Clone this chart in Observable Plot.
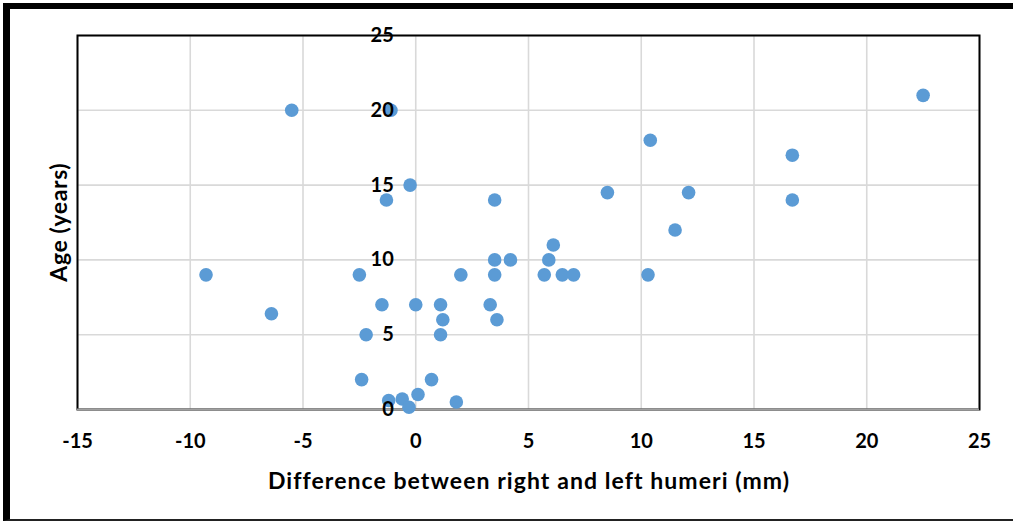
<!DOCTYPE html>
<html>
<head>
<meta charset="utf-8">
<script src="https://cdn.jsdelivr.net/npm/d3@7"></script>
<script src="https://cdn.jsdelivr.net/npm/@observablehq/plot@0.6"></script>
<style>
  html, body { margin: 0; padding: 0; background: #fff; }
  #wrap { position: relative; width: 1013px; height: 526px; overflow: hidden; }
  #outer { position: absolute; left: 3px; top: 3px; width: 1010px; height: 518px;
           border-left: 7px solid #000; border-top: 6px solid #000; border-bottom: 2px solid #222;
           box-sizing: border-box; pointer-events: none; }
  svg { position: absolute; left: 0; top: 0; }
</style>
</head>
<body>
<div id="wrap"><div id="outer"></div></div>
<script>
// Difference between right and left humeri (mm)
const diffMM = [-5.5, -1.1, -0.25, -1.3, 3.5, 8.5, 10.4, 12.1, 11.5, 16.7,
                16.7, 22.5, 6.1, 5.9, 3.5, 4.2, -9.3, -2.5, 2.0, 3.5,
                5.7, 6.5, 7.0, 10.3, -6.4, -1.5, 0.0, 1.1, 3.3, 1.2,
                3.6, -2.2, 1.1, -2.4, 0.7, -1.2, -0.6, 0.1, -0.3, 1.8];
// Age (years)
const ageYears = [20, 20, 15, 14, 14, 14.5, 18, 14.5, 12, 17,
                  14, 21, 11, 10, 10, 10, 9, 9, 9, 9,
                  9, 9, 9, 9, 6.4, 7, 7, 7, 7, 6,
                  6, 5, 5, 2, 2, 0.6, 0.7, 1, 0.15, 0.5];
const xTicks = [-15, -10, -5, 0, 5, 10, 15, 20, 25];
const yTicks = [0, 5, 10, 15, 20, 25];
const xTitle = "Difference between right and left humeri (mm)";
const yTitle = "Age (years)";

const pts = diffMM.map((d, i) => ({x: d, y: ageYears[i]}));
const font = "Lato, 'Open Sans', sans-serif";

const chart = Plot.plot({
  width: 1013,
  height: 526,
  marginLeft: 77,
  marginRight: 34,
  marginTop: 35,
  marginBottom: 117,
  style: {fontFamily: font, background: "transparent", overflow: "visible"},
  x: {domain: [-15, 25], ticks: xTicks, label: null},
  y: {domain: [0, 25], ticks: yTicks, label: null, axis: null},
  marks: [
    Plot.gridX(xTicks, {stroke: "#d9d9d9", strokeOpacity: 1, strokeWidth: 1.6}),
    Plot.gridY(yTicks, {stroke: "#d9d9d9", strokeOpacity: 1, strokeWidth: 1.6}),
    Plot.frame({stroke: "#000", strokeWidth: 2}),
    Plot.ruleY([0], {stroke: "#a0a0a0", strokeWidth: 2}),
    Plot.axisX(xTicks, {tickSize: 0, tickPadding: 24, fontSize: 20, fontWeight: "bold", fill: "#000",
                        label: null, tickFormat: d => String(d)}),
    Plot.dot(pts, {x: "x", y: "y", r: 6.8, fill: "#5B9BD5", stroke: "none"}),
    Plot.text(yTicks, {x: () => 0, y: d => d, text: d => String(d), dx: -22, textAnchor: "end",
                       fontSize: 20, fontWeight: "bold", fill: "#000"}),
    Plot.text([xTitle], {frameAnchor: "bottom", dy: 72, text: d => d, fontSize: 23, fontWeight: "bold",
                         fill: "#000", lineAnchor: "middle", textAnchor: "middle"}),
    Plot.text([yTitle], {frameAnchor: "left", dx: -18, rotate: -90, text: d => d, fontSize: 23, fontWeight: "bold",
                         fill: "#000", lineAnchor: "middle", textAnchor: "middle"})
  ]
});
document.getElementById("wrap").insertBefore(chart, document.getElementById("outer"));

// Stretch titles to the reference widths (Calibri is wider than Lato)
const targets = new Map([[xTitle, 521], [yTitle, 119]]);
d3.select(chart).selectAll("text").each(function() {
  const t = this.textContent;
  if (targets.has(t)) {
    const len = this.getComputedTextLength();
    const ls = (targets.get(t) - len) / (t.length);
    const sel = d3.select(this);
    sel.attr("letter-spacing", ls + "px");
    sel.attr("dx", (ls / 2) + "px");
  }
});
</script>
</body>
</html>
